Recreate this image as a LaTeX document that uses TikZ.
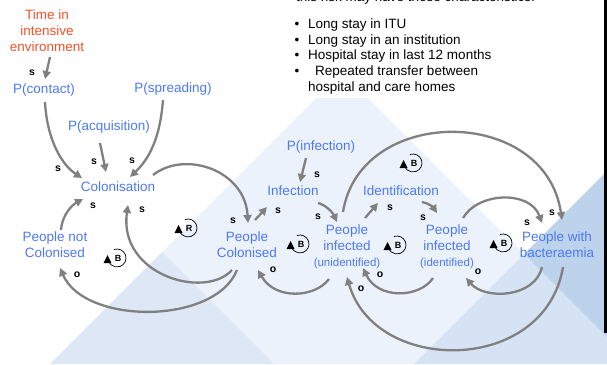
\documentclass[tikz,border=0pt]{standalone}
\usepackage{fontspec}
\setmainfont{Liberation Sans}
\usetikzlibrary{arrows.meta,calc}

\definecolor{nodeblue}{RGB}{77,121,245}
\definecolor{riskred}{RGB}{242,82,40}
\definecolor{linkgray}{RGB}{128,128,128}
\definecolor{bgA}{RGB}{236,242,251}
\definecolor{bgB}{RGB}{222,231,246}
\definecolor{bgC}{RGB}{214,227,244}
\definecolor{bgD}{RGB}{189,211,236}

\tikzset{
  var/.style={text=nodeblue, font=\fontsize{13.5}{16}\selectfont, align=center, inner sep=0pt},
  risk/.style={var, text=riskred},
  note/.style={text=black, font=\fontsize{13.5}{16}\selectfont, inner sep=0pt, anchor=base west},
  pol/.style={text=black, font=\fontsize{10.5}{12}\selectfont\bfseries, inner sep=0pt},
  link/.style={draw=linkgray, line width=2.3pt, -{Triangle[length=8pt,width=8pt]}},
}

% feedback-loop marker: open circle, arrow triangle and loop letter
\newcommand\loopmarker[2]{%
  \begin{scope}[shift={#1}]
    \draw[black, line width=0.7pt] (110:9pt) arc[start angle=110, end angle=-172, radius=9pt];
    \fill[black] (-9.5pt,3pt) -- (-13.5pt,-5pt) -- (-5.5pt,-5pt) -- cycle;
    \node[font=\fontsize{9}{10}\selectfont\bfseries, inner sep=0pt] at (1pt,0pt) {#2};
  \end{scope}}

\begin{document}
\begin{tikzpicture}[x=1pt, y=-1pt]
  \useasboundingbox (0,0) rectangle (607,364);

  % background panels
  \fill[bgA] (316,98) -- (368,98) -- (607,337) -- (607,364) -- (50,364) -- cycle;
  \fill[bgB] (162,252) -- (274,364) -- (50,364) -- cycle;
  \fill[bgC] (524,254) -- (607,337) -- (607,364) -- (414,364) -- cycle;
  \fill[bgD] (607,171) -- (607,337) -- (524,254) -- cycle;
  \fill[black] (604,0) rectangle (607,333);

  % risk characteristics text
  \node[note] at (296,1.5) {this risk may have these characteristics:};
  \node[note] at (294.5,28) {•};
  \node[note] at (308,28) {Long stay in ITU};
  \node[note] at (294.5,44) {•};
  \node[note] at (308,44) {Long stay in an institution};
  \node[note] at (294.5,59.5) {•};
  \node[note] at (308,59.5) {Hospital stay in last 12 months};
  \node[note] at (294.5,75.5) {•};
  \node[note] at (315,75.5) {Repeated transfer between};
  \node[note] at (308,91) {hospital and care homes};

  % variables
  \node[risk] (tie) at (47,31) {Time in\\intensive\\environment};
  \node[var] (pcon) at (44,90) {P(contact)};
  \node[var] (pspr) at (173,89) {P(spreading)};
  \node[var] (pacq) at (109,127) {P(acquisition)};
  \node[var] (col) at (118,187) {Colonisation};
  \node[var] (pnc) at (55,245) {People not\\Colonised};
  \node[var] (pc) at (247,245) {People\\Colonised};
  \node[var] (pinf) at (321,147) {P(infection)};
  \node[var] (inf) at (293,191) {Infection};
  \node[var] (piu) at (347,246.5) {People\\infected\\{\fontsize{11.5}{14}\selectfont(unidentified)}};
  \node[var] (idn) at (401,191) {Identification};
  \node[var] (pii) at (447,247) {People\\infected\\{\fontsize{11.5}{14}\selectfont(identified)}};
  \node[var] (pwb) at (557,245) {People with\\bacteraemia};

  % causal links
  \draw[link] ($(tie)+(3,26)$) -- ($(pcon)+(1,-11)$);
  \draw[link] ($(pcon)+(1,12)$) .. controls (47,140) and (62,165) .. ($(col)+(-36,-9)$);
  \draw[link] ($(pspr)+(-10,11)$) .. controls (160,140) and (148,160) .. ($(col)+(12,-10)$);
  \draw[link] ($(pacq)+(-9,16)$) -- ($(col)+(-12,-15)$);
  \draw[link] ($(col)+(35,-12)$) .. controls (185,150) and (245,170) .. ($(pc)+(1,-22)$);
  \draw[link] ($(pnc)+(6,-15)$) .. controls (62,215) and (72,205) .. ($(col)+(-35,12)$);
  \draw[link] ($(pc)+(-15,25)$) .. controls (205,300) and (118,275) .. ($(col)+(10,18)$);
  \draw[link] ($(pc)+(-10,25)$) .. controls (215,325) and (85,325) .. ($(pnc)+(5,23)$);
  \draw[link] ($(pc)+(8,-25)$) -- ($(inf)+(-26,16)$);
  \draw[link] ($(pinf)+(-15,11)$) -- ($(inf)+(7,-9)$);
  \draw[link] ($(inf)+(25,12)$) .. controls (326,205) and (333,213) .. ($(piu)+(-10,-24.5)$);
  \draw[link] ($(piu)+(-18,32.5)$) .. controls (315,298) and (275,300) .. ($(pc)+(11,25)$);
  \draw[link] ($(piu)+(18,-28.5)$) -- ($(idn)+(-23,12)$);
  \draw[link] ($(idn)+(21,11)$) .. controls (428,203) and (433,207) .. ($(pii)+(-10,-34)$);
  \draw[link] ($(pii)+(-14,31)$) .. controls (420,298) and (378,300) .. ($(piu)+(16,21.5)$);
  \draw[link] ($(pii)+(16,-29)$) .. controls (478,192) and (530,190) .. ($(pwb)+(-15,-22)$);
  \draw[link] ($(pwb)+(-15,22)$) .. controls (535,298) and (485,300) .. ($(pii)+(19,31)$);
  \draw[link] ($(piu)+(-4,-34.5)$) .. controls (360,105) and (545,105) .. ($(pwb)+(5,-25)$);
  \draw[link] ($(pwb)+(6,22)$) .. controls (545,375) and (375,375) .. ($(piu)+(0,30.5)$);

  % link polarities
  \node[pol] (s1) at (32,73) {s};
  \node[pol] (s2) at (58,169) {s};
  \node[pol] (s3) at (94,162) {s};
  \node[pol] (s4) at (132,161) {s};
  \node[pol] (s5) at (93,206) {s};
  \node[pol] (s6) at (142,210) {s};
  \node[pol] (s7) at (233,221) {s};
  \node[pol] (o1) at (77,275) {o};
  \node[pol] (s8) at (278,211) {s};
  \node[pol] (s9) at (317,175) {s};
  \node[pol] (s10) at (318,217) {s};
  \node[pol] (o2) at (273,270) {o};
  \node[pol] (s11) at (390,208) {s};
  \node[pol] (s12) at (423,218) {s};
  \node[pol] (o3) at (380,275) {o};
  \node[pol] (s13) at (527,223) {s};
  \node[pol] (s14) at (552,213) {s};
  \node[pol] (o4) at (478,272) {o};
  \node[pol] (o5) at (361,289) {o};

  % loop markers
  \loopmarker{(117,258)}{B}
  \loopmarker{(188,228)}{R}
  \loopmarker{(300,244)}{B}
  \loopmarker{(413,163)}{B}
  \loopmarker{(397,245)}{B}
  \loopmarker{(503,243)}{B}
\end{tikzpicture}
\end{document}
